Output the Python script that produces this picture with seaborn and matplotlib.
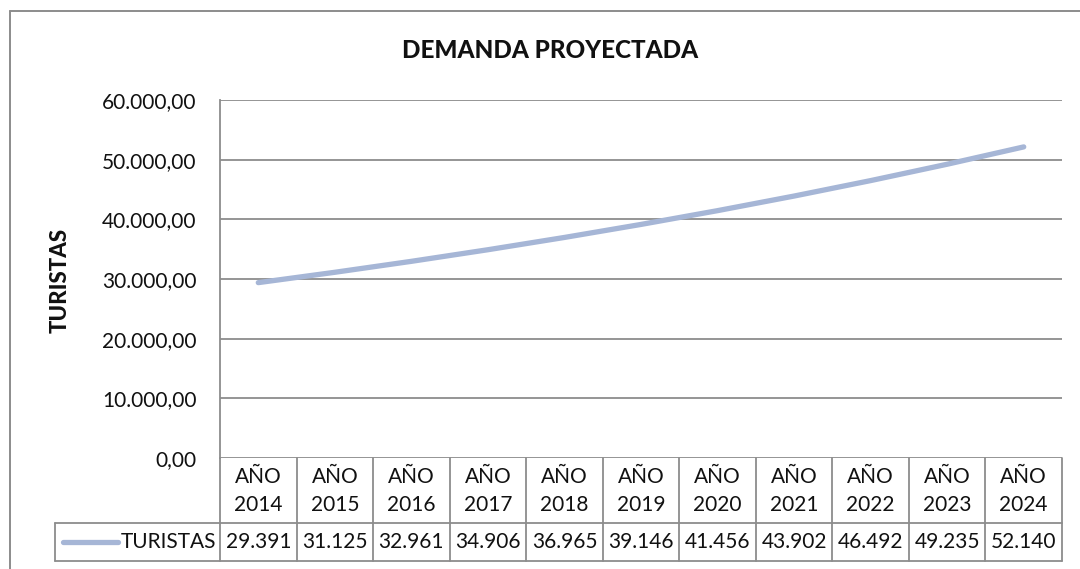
import matplotlib
matplotlib.use("Agg")
import matplotlib.pyplot as plt
from matplotlib.ticker import FuncFormatter, MultipleLocator
import seaborn as sns
import pandas as pd

years = ["2014", "2015", "2016", "2017", "2018", "2019",
         "2020", "2021", "2022", "2023", "2024"]
turistas = [29391, 31125, 32961, 34906, 36965, 39146,
            41456, 43902, 46492, 49235, 52140]
series_name = "TURISTAS"
title = "DEMANDA PROYECTADA"
y_label = "TURISTAS"

sns.set_theme(style="white")
plt.rcParams["font.family"] = ["Lato", "DejaVu Sans"]

W, H = 1080, 569
fig = plt.figure(figsize=(W / 100, H / 100), dpi=100)
fig.patch.set_facecolor("white")

# plot area in pixel coordinates
px_l, px_r, px_t, px_b = 220, 1062, 100, 458
ax = fig.add_axes([px_l / W, 1 - px_b / H, (px_r - px_l) / W, (px_b - px_t) / H])

df = pd.DataFrame({"pos": range(len(years)), "val": turistas})
line_color = "#A6B6D6"
sns.lineplot(data=df, x="pos", y="val", ax=ax, color=line_color,
             linewidth=3.8, solid_capstyle="round")

ax.set_xlim(-0.5, len(years) - 0.5)
ax.set_ylim(0, 60000)
ax.yaxis.set_major_locator(MultipleLocator(10000))


def es_fmt(v, decimals=2):
    s = f"{v:,.{decimals}f}"
    return s.replace(",", "X").replace(".", ",").replace("X", ".")


ax.yaxis.set_major_formatter(FuncFormatter(lambda v, p: es_fmt(v, 2)))
ax.tick_params(axis="y", labelsize=15, pad=17, length=0, colors="#111111")
ax.set_xticks([])
ax.set_xlabel("")
ax.set_ylabel("")

grid_color = "#8C8C8C"
ax.grid(axis="y", color=grid_color, linewidth=1.3)
ax.set_axisbelow(True)
for side in ["top", "right", "bottom"]:
    ax.spines[side].set_visible(False)
ax.spines["left"].set_color(grid_color)
ax.spines["left"].set_linewidth(1.3)

# title and axis label
fig.text(550 / W, 1 - 50 / H, title, ha="center", va="center",
         fontsize=17.5, fontweight="black", color="#111111")
fig.text(60 / W, 1 - 280 / H, y_label, ha="center", va="center",
         rotation=90, fontsize=16, fontweight="black", color="#111111")

# outer chart border (left and top)
fig.add_artist(plt.Line2D([10 / W, 10 / W], [0, 1 - 11 / H],
                          transform=fig.transFigure, color="#8C8C8C", lw=1.4))
fig.add_artist(plt.Line2D([10 / W, 1], [1 - 11 / H, 1 - 11 / H],
                          transform=fig.transFigure, color="#8C8C8C", lw=1.4))

# data table beneath the plot area
row1_b, row2_b = 523, 561
legend_l = 55
n = len(years)
col_w = (px_r - px_l) / n


def fx(x):
    return x / W


def fy(y):
    return 1 - y / H


def hline(x0, x1, y):
    fig.add_artist(plt.Line2D([fx(x0), fx(x1)], [fy(y), fy(y)],
                              transform=fig.transFigure, color=grid_color, lw=1.3))


def vline(x, y0, y1):
    fig.add_artist(plt.Line2D([fx(x), fx(x)], [fy(y0), fy(y1)],
                              transform=fig.transFigure, color=grid_color, lw=1.3))


hline(legend_l, px_r, row1_b)
hline(legend_l, px_r, row2_b)
vline(legend_l, row1_b, row2_b)
for i in range(n + 1):
    vline(px_l + i * col_w, px_b, row2_b)

for i, (yr, v) in enumerate(zip(years, turistas)):
    cx = px_l + (i + 0.5) * col_w
    fig.text(fx(cx), fy(477), "AÑO", ha="center", va="center",
             fontsize=15, color="#111111")
    fig.text(fx(cx), fy(505), yr, ha="center", va="center",
             fontsize=15, color="#111111")
    fig.text(fx(cx), fy(542), f"{v:,}".replace(",", "."), ha="center",
             va="center", fontsize=15, color="#111111")

# legend key inside the table
fig.add_artist(plt.Line2D([fx(63), fx(118)], [fy(542), fy(542)],
                          transform=fig.transFigure, color=line_color,
                          lw=3.8, solid_capstyle="round"))
fig.text(fx(216), fy(542), series_name, ha="right", va="center",
         fontsize=15, color="#111111")

fig.savefig("out.png", dpi=100, facecolor="white")
